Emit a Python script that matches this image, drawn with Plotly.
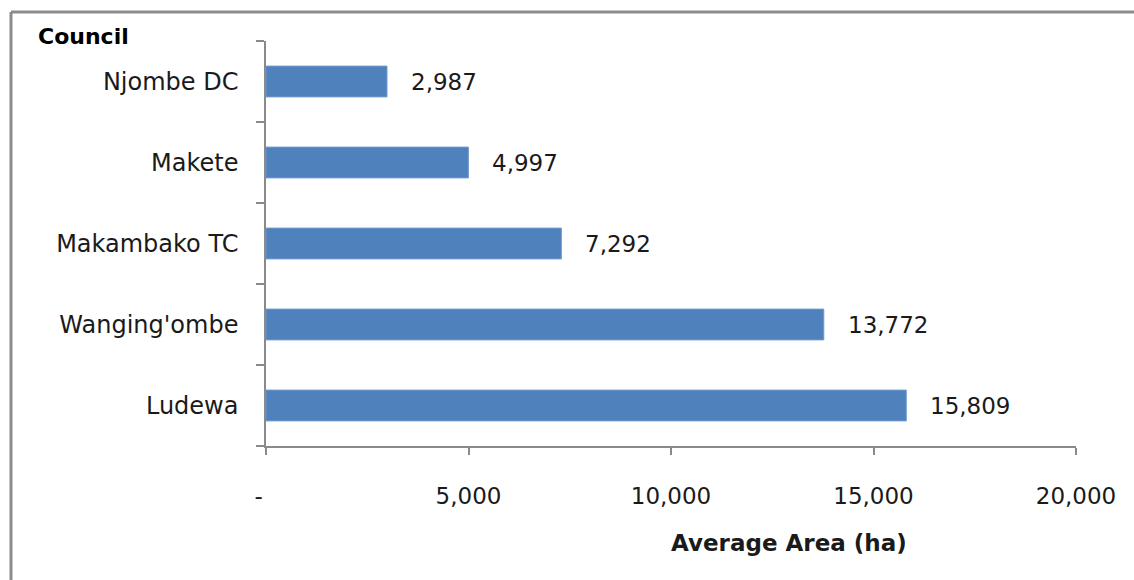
import plotly.graph_objects as go

# Councils listed bottom-to-top as drawn on the category axis
councils = ["Ludewa", "Wanging'ombe", "Makambako TC", "Makete", "Njombe DC"]
avg_area = [15809, 13772, 7292, 4997, 2987]

x_tickvals = [0, 5000, 10000, 15000, 20000]
x_ticktext = ["-\u00a0\u00a0", "5,000", "10,000", "15,000", "20,000"]

FONT = "DejaVu Sans"
TEXT = "#1a1a1a"
AXIS_GRAY = "#8a8a8a"
BAR_BLUE = "#4f81bd"

# plot-area geometry in pixels
W, H = 1134, 580
ML, MR, MT, MB = 266, 58, 41, 134
PW, PH = W - ML - MR, H - MT - MB


def px_x(x):
    return (x - ML) / PW


def px_y(y):
    return (H - MB - y) / PH


fig = go.Figure()
fig.add_trace(go.Bar(
    x=avg_area,
    y=councils,
    orientation="h",
    width=0.38,
    marker=dict(color=BAR_BLUE, line=dict(color="#6d98cc", width=1)),
    hoverinfo="x+y",
))

annotations = []
# value labels just right of each bar end
for c, v in zip(councils, avg_area):
    annotations.append(dict(
        x=v, y=c, xref="x", yref="y",
        text=f"{v:,}", showarrow=False,
        xanchor="left", xshift=22,
        font=dict(family=FONT, size=23, color=TEXT),
    ))

# axis titles
annotations.append(dict(
    x=px_x(36), y=px_y(37), xref="paper", yref="paper",
    text="<b>Council</b>", showarrow=False,
    xanchor="left", yanchor="middle",
    font=dict(family=FONT, size=22, color="#000"),
))
annotations.append(dict(
    x=px_x(789), y=px_y(543), xref="paper", yref="paper",
    text="<b>Average Area (ha)</b>", showarrow=False,
    xanchor="center", yanchor="middle",
    font=dict(family=FONT, size=23, color=TEXT),
))

fig.update_layout(
    width=W, height=H,
    margin=dict(l=ML, r=MR, t=MT, b=MB),
    paper_bgcolor="white", plot_bgcolor="white",
    showlegend=False,
    xaxis=dict(
        range=[0, 20000],
        tickvals=x_tickvals, ticktext=x_ticktext,
        showgrid=False, zeroline=False,
        showline=True, linecolor=AXIS_GRAY, linewidth=1.5,
        ticks="outside", ticklen=7, tickcolor=AXIS_GRAY, tickwidth=1.5,
        ticklabelstandoff=22,
        tickfont=dict(family=FONT, size=23, color=TEXT),
    ),
    yaxis=dict(
        type="category", categoryorder="array", categoryarray=councils,
        range=[-0.5, 4.5],
        showgrid=False, zeroline=False,
        showline=True, linecolor=AXIS_GRAY, linewidth=1.5,
        ticks="outside", ticklen=8, tickcolor=AXIS_GRAY, tickwidth=1.5,
        tickson="boundaries",
        ticklabelstandoff=21,
        tickfont=dict(family=FONT, size=24, color=TEXT),
    ),
    annotations=annotations,
    shapes=[
        # outer frame: top and left edges
        dict(type="line", xref="paper", yref="paper",
             x0=px_x(11), x1=px_x(1140), y0=px_y(12), y1=px_y(12),
             line=dict(color="#8c8c8c", width=3)),
        dict(type="line", xref="paper", yref="paper",
             x0=px_x(11), x1=px_x(11), y0=px_y(12), y1=px_y(590),
             line=dict(color="#8c8c8c", width=3)),
    ],
)

fig.write_html("out.html")
